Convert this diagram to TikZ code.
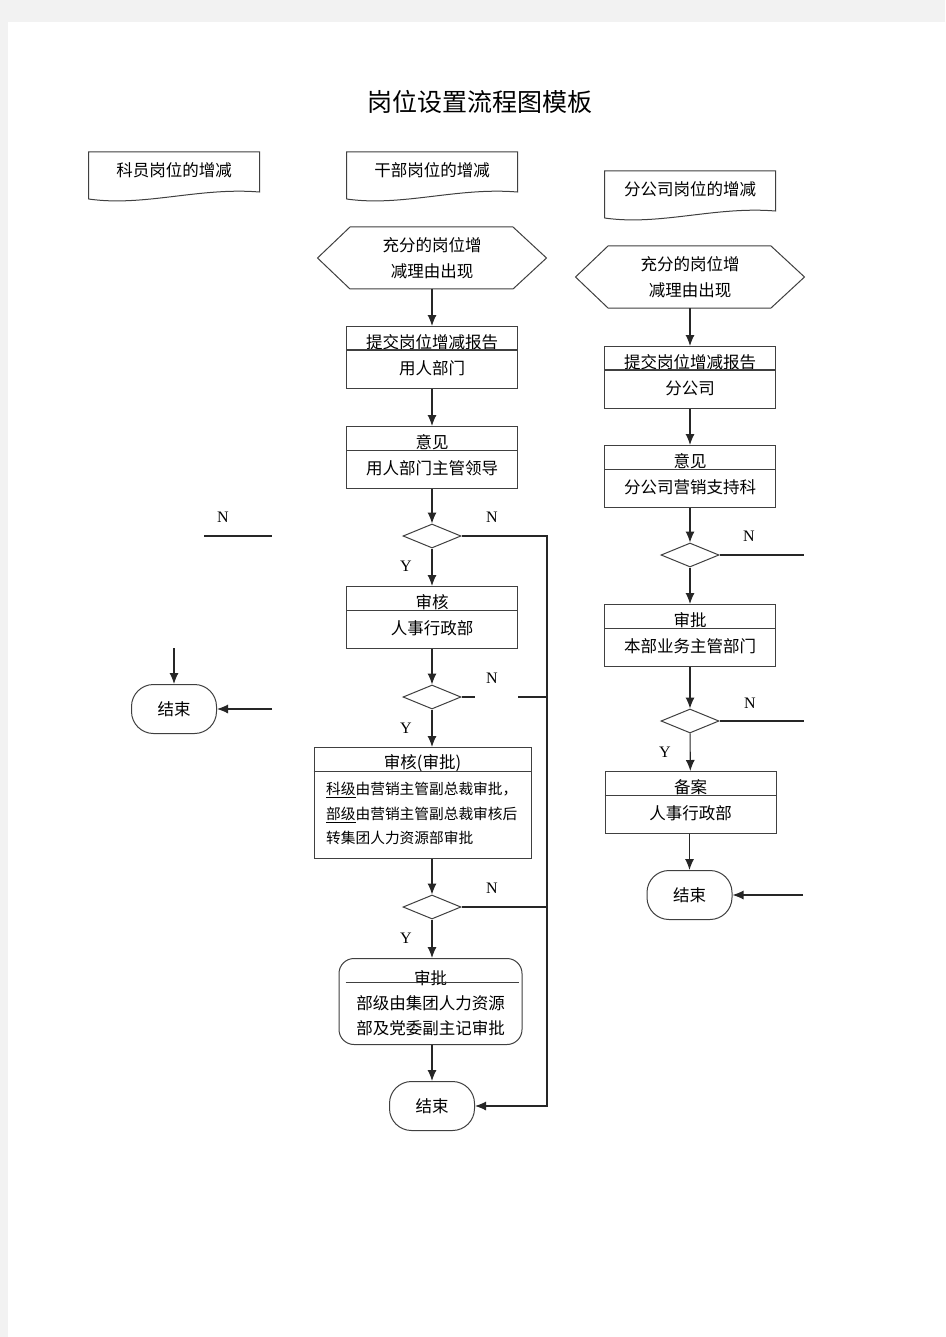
\documentclass[tikz,border=0pt]{standalone}
\usepackage{fontspec}
\setmainfont{Noto Sans CJK SC}
\newfontfamily\latinfont{Liberation Serif}
\usetikzlibrary{shapes,arrows.meta,calc}

\begin{document}
\begin{tikzpicture}[x=1pt,y=-1pt]
        \tikzstyle{every node} = [font=\fontsize{16.5}{20}\selectfont, inner sep=0pt]
        \tikzstyle{boxline} = [draw=black!75, line width=1pt]
        \tikzstyle{procbox} = [rectangle, boxline, minimum width=171pt, minimum height=62pt, anchor=north]
        \tikzstyle{decision} = [diamond, boxline, minimum width=58pt, minimum height=24pt]
        \tikzstyle{terminal} = [rectangle, rounded corners=22pt, boxline, minimum width=85pt, minimum height=49pt]
        \tikzstyle{line} = [draw=black!85, line width=1.1pt]
        \tikzstyle{flow} = [line, -{Latex[length=11pt,width=9pt]}]
        \tikzstyle{yn} = [font=\latinfont\fontsize{16}{16}\selectfont]

        % page
        \fill[black!5] (0,0) rectangle (945,1337);
        \fill[white] (8,22) rectangle (945,1337);

        \node (title) at (480,102) {\fontsize{25}{25}\selectfont 岗位设置流程图模板};

        % documents
        \foreach \n/\x/\y/\t in {dk/174/152/科员岗位的增减, dg/432/152/干部岗位的增减, df/690/171/分公司岗位的增减}
        {
                \node (\n) at (\x,\y+18) {\t};
                \draw[boxline] (\x-85.5,\y+47) -- (\x-85.5,\y) -- (\x+85.5,\y) -- (\x+85.5,\y+40)
                        .. controls (\x+25,\y+35) and (\x-30,\y+55) .. (\x-85.5,\y+47);
        }

        % hexagons
        \foreach \n/\x/\y in {h1/432/258, h2/690/277}
        {
                \node[align=center, font=\fontsize{16.5}{26}\selectfont] (\n) at (\x,\y) {充分的岗位增\\减理由出现};
                \draw[boxline] (\x-114.5,\y) -- (\x-82,\y-31) -- (\x+81,\y-31) -- (\x+114.5,\y)
                        -- (\x+81,\y+31) -- (\x-82,\y+31) -- cycle;
                \coordinate (\n-s) at (\x,\y+31);
        }

        % process boxes
        \foreach \n/\x/\y/\w/\t/\s in {b1/432/326/2pt/提交岗位增减报告/用人部门, b2/432/426/1pt/意见/用人部门主管领导,
                b3/432/586/1pt/审核/人事行政部, r1/690/346/2pt/提交岗位增减报告/分公司, r2/690/445/1pt/意见/分公司营销支持科,
                r3/690/604/1pt/审批/本部业务主管部门, r4/690.5/771/1pt/备案/人事行政部}
        {
                \node[procbox] (\n) at (\x,\y) {};
                \node at ([yshift=-16pt]\n.north) {\t};
                \node at ([yshift=-42pt]\n.north) {\s};
                \draw[boxline, line width=\w] ([yshift=-24pt]\n.north west) -- ([yshift=-24pt]\n.north east);
        }

        \node[procbox, minimum width=217pt, minimum height=111pt] (b4) at (422.5,747) {};
        \node at ([yshift=-16pt]b4.north) {审核(审批)};
        \draw[boxline] ([yshift=-24pt]b4.north west) -- ([yshift=-24pt]b4.north east);
        \node[anchor=north west, align=left, font=\fontsize{14.7}{24.5}\selectfont] (b4t) at (326,782)
                {\underline{科级}由营销主管副总裁审批，\\\underline{部级}由营销主管副总裁审核后\\转集团人力资源部审批};

        \node[rectangle, rounded corners=15pt, boxline, minimum width=183pt, minimum height=86pt, anchor=north] (b5) at (430.5,958) {};
        \node at ([yshift=-20pt]b5.north) {审批};
        \draw[boxline] ([xshift=7pt,yshift=-24pt]b5.north west) -- ([xshift=-4pt,yshift=-24pt]b5.north east);
        \node at ([yshift=-45pt]b5.north) {部级由集团人力资源};
        \node at ([yshift=-70pt]b5.north) {部及党委副主记审批};

        % decisions
        \foreach \n/\x/\y in {d1/432/536, d2/432/697, d3/432/907, d4/690/555, d5/690/721}
                \node[decision] (\n) at (\x,\y) {};

        % ends
        \foreach \n/\x/\y in {e1/174/709, e2/432/1106, e3/689.5/895}
                \node[terminal] (\n) at (\x,\y) {结束};

        % middle column
        \draw[flow] (h1-s) -- (b1);
        \draw[flow] (b1) -- (b2);
        \draw[flow] (b2) -- (d1);
        \draw[flow] (d1) -- (b3);
        \draw[flow] (b3) -- (d2);
        \draw[flow] (d2) -- (d2 |- b4.north);
        \draw[flow] (b4.south -| d3) -- (d3);
        \draw[flow] (d3) -- (d3 |- b5.north);
        \draw[flow] (b5.south -| e2) -- (e2);

        \coordinate (nc) at (547,536);
        \coordinate (ng) at (518,697);
        \draw[flow] (d1.east) -- (nc) |- (e2.east);
        \draw[line] (d2.east) -- ++(13,0);
        \draw[line] (ng) -- (d2 -| nc);
        \draw[line] (d3.east) -- (d3 -| nc);

        % right column
        \draw[flow] (h2-s) -- (r1);
        \draw[flow] (r1) -- (r2);
        \draw[flow] (r2) -- (d4);
        \draw[flow] (d4) -- (r3);
        \draw[flow] (r3) -- (d5);
        \draw[flow] (d5) -- (r4);
        \draw[flow] (r4.south -| e3) -- (e3);

        \coordinate (rn1) at (804,555);
        \coordinate (rn2) at (804,721);
        \coordinate (rn3) at (803,895);
        \draw[line] (d4.east) -- (rn1);
        \draw[line] (d5.east) -- (rn2);
        \draw[line, line width=2pt] (775,721) -- (rn2);
        \draw[flow] (rn3) -- (e3);

        % left column
        \coordinate (ln1) at (204,536);
        \coordinate (ln2) at (272,536);
        \coordinate (lt) at (174,648);
        \coordinate (lr) at (272,709);
        \draw[line] (ln1) -- (ln2);
        \draw[flow] (lt) -- (e1);
        \draw[flow] (lr) -- (e1);

        % labels
        \foreach \n/\x/\y/\t in {n1/492/517/N, n2/492/678/N, n3/492/888/N, n4/223/517/N, n5/749/536/N, n6/750/703/N,
                y1/406/566/Y, y2/406/728/Y, y3/406/938/Y, y4/665/752/Y}
                \node[yn] (\n) at (\x,\y) {\t};
\end{tikzpicture}
\end{document}
